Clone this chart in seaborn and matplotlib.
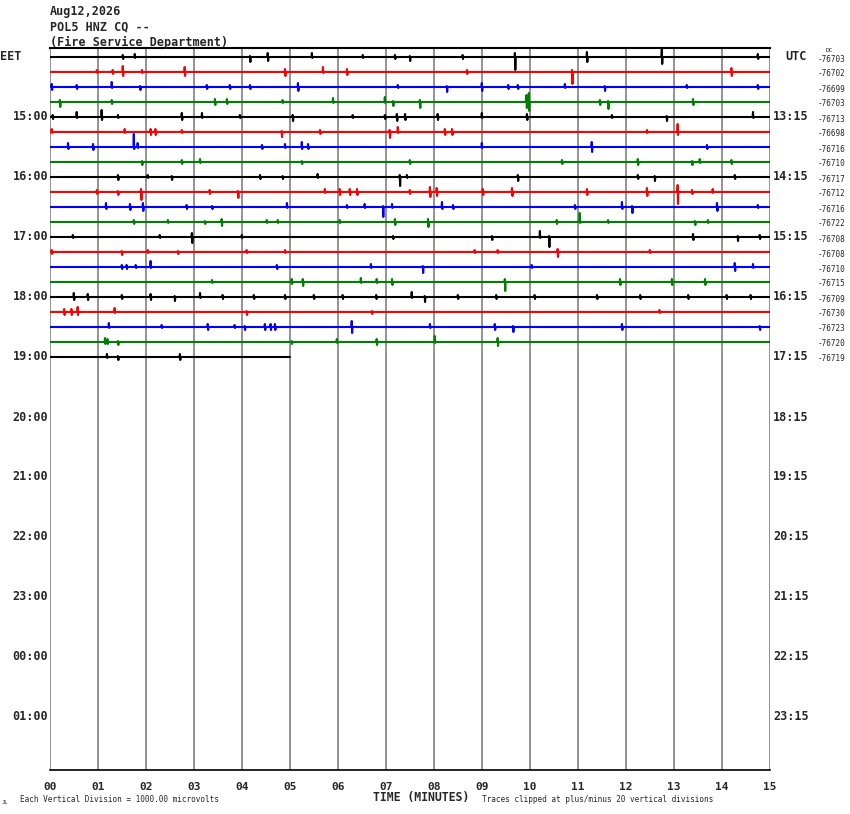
import seaborn as sns
import matplotlib.pyplot as plt
import numpy as np
import pandas as pd

# helicorder rows, 15 minutes each, starting 14:45 EET
row_colors = ["black", "red", "blue", "green"]
row_end = [15] * 20 + [5]
dc_offsets = ["-76703", "-76702", "-76699", "-76703", "-76713", "-76698", "-76716",
              "-76710", "-76717", "-76712", "-76716", "-76722", "-76708", "-76708",
              "-76710", "-76715", "-76709", "-76730", "-76723", "-76720", "-76719"]
left_hours = ["15:00", "16:00", "17:00", "18:00", "19:00", "20:00",
              "21:00", "22:00", "23:00", "00:00", "01:00"]
right_hours = ["13:15", "14:15", "15:15", "16:15", "17:15", "18:15",
               "19:15", "20:15", "21:15", "22:15", "23:15"]
minute_labels = ["%02d" % m for m in range(16)]

# events: (minute, up px, down px)
trace_events = [
    [(1.52, 2, 2), (1.77, 3, 1), (4.17, 1, 5), (4.54, 4, 4), (5.46, 4, 1), (6.52, 2, 1),
     (7.19, 2, 2), (7.5, 1, 4), (8.6, 2, 2), (9.69, 4, 13), (11.19, 5, 5), (12.75, 8, 7), (14.75, 3, 2)],
    [(0.98, 2, 1), (1.31, 2, 2), (1.52, 6, 4), (1.92, 2, 1), (2.81, 5, 4), (4.9, 3, 4),
     (5.69, 5, 1), (6.19, 3, 3), (8.69, 2, 2), (10.88, 2, 12), (14.2, 4, 4)],
    [(0.04, 3, 3), (0.56, 2, 2), (1.29, 5, 1), (1.88, 1, 3), (3.27, 2, 2), (3.75, 2, 2),
     (4.17, 2, 2), (5.17, 4, 4), (7.25, 2, 1), (8.27, 1, 5), (9.0, 4, 4), (9.55, 2, 2),
     (9.75, 2, 2), (10.73, 3, 1), (11.56, 1, 4), (13.27, 2, 1), (14.75, 2, 2)],
    [(0.21, 2, 5), (1.29, 2, 2), (3.44, 3, 3), (3.69, 3, 2), (4.85, 2, 1), (5.9, 4, 1),
     (6.98, 5, 1), (7.15, 1, 4), (7.71, 2, 6), (9.93, 7, 6), (9.98, 9, 9), (11.46, 2, 3),
     (11.63, 1, 7), (13.4, 3, 3)],
    [(0.06, 2, 2), (0.56, 5, 1), (1.08, 7, 3), (1.42, 2, 1), (2.75, 4, 3), (3.17, 4, 1),
     (3.96, 2, 1), (5.06, 2, 4), (6.31, 2, 1), (6.98, 2, 2), (7.23, 3, 4), (7.4, 3, 3),
     (8.08, 3, 3), (9.0, 4, 1), (9.94, 3, 3), (11.71, 2, 1), (12.85, 1, 4), (14.65, 5, 1)],
    [(0.04, 3, 1), (1.56, 3, 1), (2.1, 3, 3), (2.2, 3, 3), (2.75, 2, 1), (4.83, 1, 5),
     (5.63, 2, 2), (7.08, 2, 6), (7.25, 5, 1), (8.23, 3, 3), (8.38, 3, 3), (12.44, 2, 1),
     (13.08, 8, 3)],
    [(0.38, 4, 2), (0.9, 3, 3), (1.75, 13, 2), (1.83, 4, 1), (4.42, 2, 2), (4.9, 3, 1),
     (5.25, 5, 2), (5.38, 3, 2), (9.0, 4, 1), (11.29, 5, 5), (13.69, 2, 2)],
    [(1.92, 1, 3), (2.75, 2, 2), (3.13, 3, 1), (5.25, 1, 2), (7.5, 2, 2), (10.67, 2, 2),
     (12.25, 3, 3), (13.38, 1, 3), (13.54, 3, 1), (14.2, 2, 2)],
    [(1.42, 2, 3), (2.04, 2, 1), (2.54, 1, 3), (4.38, 2, 2), (4.85, 1, 2), (5.58, 3, 1),
     (7.29, 2, 9), (7.44, 2, 1), (9.75, 2, 4), (12.25, 2, 2), (12.6, 1, 4), (14.27, 2, 2)],
    [(0.98, 2, 2), (1.42, 1, 3), (1.9, 3, 8), (3.33, 2, 2), (3.92, 1, 6), (5.73, 3, 1),
     (6.04, 3, 3), (6.25, 3, 3), (6.4, 3, 3), (7.5, 2, 2), (7.92, 5, 5), (8.06, 4, 4),
     (9.02, 3, 3), (9.63, 4, 4), (11.19, 3, 3), (12.44, 4, 4), (13.08, 7, 12),
     (13.38, 2, 2), (13.81, 3, 1)],
    [(1.17, 4, 2), (1.67, 3, 3), (1.94, 4, 4), (2.85, 2, 2), (3.38, 1, 2), (4.94, 4, 1),
     (6.19, 2, 1), (6.56, 3, 1), (6.94, 1, 10), (7.13, 3, 1), (8.17, 5, 2), (8.4, 2, 2),
     (10.94, 2, 2), (11.92, 5, 2), (12.13, 1, 6), (13.9, 4, 4), (14.75, 2, 1)],
    [(1.75, 2, 2), (2.46, 2, 1), (3.23, 1, 2), (3.58, 3, 4), (4.52, 2, 1), (4.75, 2, 1),
     (6.04, 2, 1), (7.19, 3, 3), (7.88, 3, 5), (10.56, 2, 2), (11.04, 9, 1), (11.63, 2, 1),
     (13.44, 1, 3), (13.71, 2, 1)],
    [(0.48, 2, 1), (2.29, 2, 1), (2.96, 4, 6), (4.0, 2, 1), (7.15, 1, 2), (9.21, 1, 3),
     (10.21, 6, 1), (10.4, 1, 10), (13.4, 3, 3), (14.33, 1, 4), (14.79, 2, 2)],
    [(0.04, 2, 2), (1.5, 1, 3), (2.04, 2, 1), (2.67, 1, 2), (4.1, 2, 1), (4.9, 2, 1),
     (8.85, 2, 1), (9.33, 2, 1), (10.58, 3, 5), (12.5, 2, 1)],
    [(1.5, 2, 2), (1.6, 2, 2), (1.79, 2, 1), (2.1, 6, 1), (4.73, 2, 2), (6.69, 3, 1),
     (7.77, 1, 6), (10.04, 2, 1), (14.27, 4, 4), (14.65, 3, 1)],
    [(3.38, 2, 1), (5.04, 3, 2), (5.27, 3, 4), (6.48, 4, 1), (6.81, 3, 1), (7.13, 3, 3),
     (9.48, 3, 9), (11.88, 3, 3), (12.96, 3, 3), (13.65, 3, 3)],
    [(0.5, 4, 3), (0.79, 3, 3), (1.5, 2, 2), (2.1, 3, 3), (2.6, 1, 4), (3.13, 4, 1),
     (3.6, 2, 2), (4.25, 2, 2), (4.9, 2, 2), (5.5, 2, 2), (6.1, 2, 2), (6.8, 2, 2),
     (7.54, 5, 1), (7.81, 1, 5), (8.5, 2, 2), (9.3, 2, 2), (10.1, 2, 2), (11.4, 2, 2),
     (12.3, 2, 2), (13.3, 2, 2), (14.1, 2, 2), (14.6, 2, 2)],
    [(0.3, 3, 3), (0.45, 3, 3), (0.58, 5, 3), (1.35, 4, 1), (4.1, 1, 3), (6.71, 1, 2),
     (12.7, 2, 1)],
    [(1.23, 4, 1), (2.33, 2, 1), (3.29, 3, 3), (3.85, 2, 1), (4.06, 1, 3), (4.48, 3, 3),
     (4.6, 3, 3), (4.69, 3, 3), (6.29, 6, 6), (7.92, 3, 1), (9.27, 3, 3), (9.65, 1, 5),
     (11.92, 3, 3), (14.79, 1, 3)],
    [(1.15, 4, 2), (1.2, 3, 2), (1.42, 1, 3), (5.04, 1, 2), (5.98, 3, 1), (6.81, 3, 3),
     (8.02, 6, 1), (9.33, 4, 4)],
    [(1.19, 3, 1), (1.42, 1, 3), (2.71, 3, 3)],
]

# build one long table of trace points (1 row = 15 px)
rows = []
for r, events in enumerate(trace_events):
    pts = [(0.0, 0.0)]
    for t, up, down in sorted(events):
        pts += [(t - 0.012, 0.0), (t - 0.004, -up), (t + 0.004, down), (t + 0.012, 0.0)]
    pts.append((row_end[r], 0.0))
    for m, a in pts:
        rows.append({"minute": m, "y": r + a / 15.0, "row": r})
df = pd.DataFrame(rows)
palette = {r: row_colors[r % 4] for r in range(len(trace_events))}

sns.set_style("white")
plt.rcParams["font.family"] = ["DejaVu Sans Mono"]

W, H = 850, 814
fig = plt.figure(figsize=(W / 100, H / 100), dpi=100)
ax = fig.add_axes([50 / W, 1 - 770 / H, 720 / W, (770 - 48) / H])

sns.lineplot(data=df, x="minute", y="y", hue="row", palette=palette, estimator=None,
             sort=False, legend=False, linewidth=1.5, ax=ax)

ax.set_xlim(0, 15)
ax.set_ylim((770 - 57) / 15, -(57 - 48) / 15)
ax.set_xticks(range(16))
ax.set_xticks(np.arange(0, 15.01, 1 / 6), minor=True)
ax.set_xticklabels(minute_labels, fontsize=8, fontweight="bold")
ax.set_yticks([])
ax.set_xlabel("")
ax.set_ylabel("")
ax.grid(axis="x", which="major", color="#808080", linewidth=1.2)
ax.set_axisbelow(True)
ax.tick_params(axis="x", which="both", direction="in", length=6, width=1, color="black", pad=9)
for s in ["left", "right"]:
    ax.spines[s].set_visible(False)
ax.spines["top"].set_color("black")
ax.spines["bottom"].set_color("black")
ax.spines["top"].set_linewidth(1.5)
ax.spines["bottom"].set_linewidth(1.2)


def px(x, y):
    return x / W, 1 - y / H


fig.text(*px(50, 12), "Aug12,2026", fontsize=8.5, fontweight="bold", va="center")
fig.text(*px(50, 27), "POL5 HNZ CQ --", fontsize=8.5, fontweight="bold", va="center")
fig.text(*px(50, 42), "(Fire Service Department)", fontsize=8.5, fontweight="bold", va="center")

fig.text(*px(0, 57), "EET", fontsize=8.5, fontweight="bold", va="center")
fig.text(*px(785, 57), "UTC", fontsize=8.5, fontweight="bold", va="center")
for i, (lh, rh) in enumerate(zip(left_hours, right_hours)):
    y = 57 + (i + 1) * 60
    fig.text(*px(48, y), lh, fontsize=8.5, fontweight="bold", va="center", ha="right")
    fig.text(*px(773, y), rh, fontsize=8.5, fontweight="bold", va="center", ha="left")
for i, v in enumerate(dc_offsets):
    fig.text(*px(818, 59 + i * 15), v, fontsize=5.5, va="center", ha="left")
fig.text(*px(826, 50), "DC", fontsize=4.5, va="center", ha="left")

fig.text(*px(421, 798), "TIME (MINUTES)", fontsize=8.3, fontweight="bold", va="center", ha="center")
fig.text(*px(20, 800), "Each Vertical Division = 1000.00 microvolts", fontsize=5.6, va="center")
fig.text(*px(482, 800), "Traces clipped at plus/minus 20 vertical divisions", fontsize=5.6, va="center")
fig.text(*px(2, 802), "JL", fontsize=4, va="center")

fig.savefig("out.png", dpi=100)
